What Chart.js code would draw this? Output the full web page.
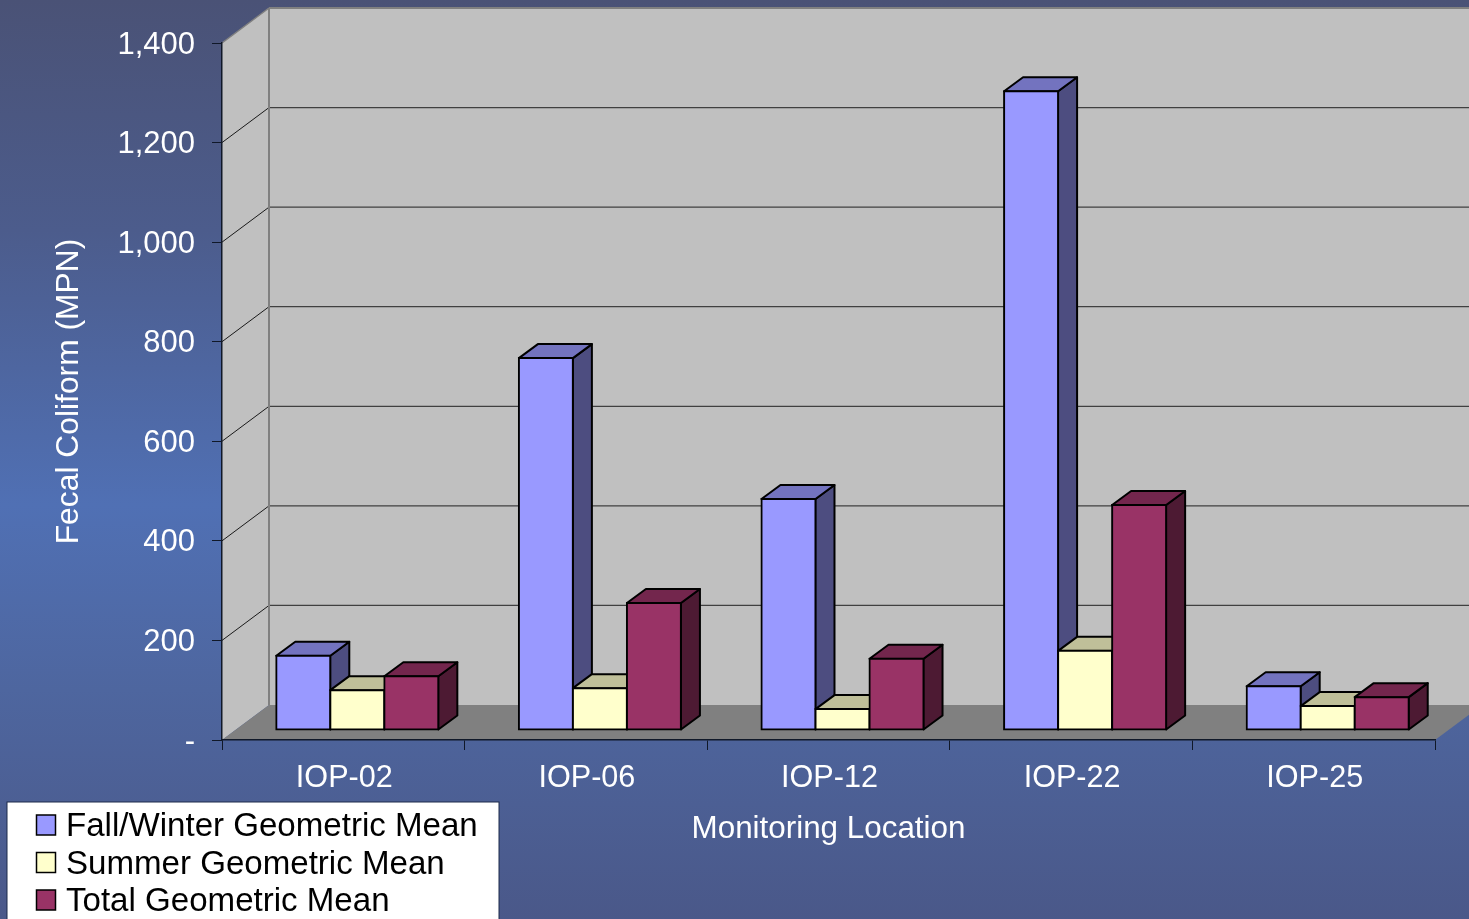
<!DOCTYPE html>
<html>
<head>
<meta charset="utf-8">
<title>Fecal Coliform by Monitoring Location</title>
<script src="https://cdn.jsdelivr.net/npm/chart.js@4"></script>
<style>
    html, body { margin: 0; padding: 0; overflow: hidden; }
    body {
        width: 1469px;
        height: 919px;
        background: linear-gradient(180deg, #4a5276 0%, #4c5c8c 25%, #5070b4 55%, #4e669f 75%, #4a5889 100%);
    }
    canvas { display: block; }
</style>
</head>
<body>
<canvas id="coliformChart" width="1469" height="919"></canvas>
<script>
const locations = ['IOP-02', 'IOP-06', 'IOP-12', 'IOP-22', 'IOP-25'];
const fallWinter = [149, 747, 464, 1283, 88];
const summer = [80, 84, 42, 159, 48];
const total = [108, 255, 143, 452, 66];

const FONT = '"Liberation Sans", Arial, sans-serif';

// depth of the box, and how far the bars sit inside it
const BOX_DX = 47, BOX_DY = -35;
const BAR_DX = 14, BAR_DY = -10;
const SIDE_DX = 19, SIDE_DY = -14;

const shades = [
    { side: '#4d4d80', top: '#7373bf' },
    { side: '#808066', top: '#bfbf99' },
    { side: '#4d1a33', top: '#73264d' }
];

function fillPoly(ctx, pts, fill, stroke, lineWidth) {
    ctx.beginPath();
    pts.forEach((p, i) => i ? ctx.lineTo(p[0], p[1]) : ctx.moveTo(p[0], p[1]));
    ctx.closePath();
    if (fill) {
        ctx.fillStyle = fill;
        ctx.fill();
    }
    if (stroke) {
        ctx.strokeStyle = stroke;
        ctx.lineWidth = lineWidth;
        ctx.stroke();
    }
}

function line(ctx, x1, y1, x2, y2, color, width) {
    ctx.beginPath();
    ctx.moveTo(x1, y1);
    ctx.lineTo(x2, y2);
    ctx.strokeStyle = color;
    ctx.lineWidth = width;
    ctx.stroke();
}

const boxPlugin = {
    id: 'box',
    // back wall, side wall, floor and the gridlines that run over them
    beforeDraw(chart) {
        const { ctx, chartArea: a, scales } = chart;
        ctx.save();
        fillPoly(ctx, [[a.left + BOX_DX, a.top + BOX_DY], [a.right + BOX_DX, a.top + BOX_DY],
            [a.right + BOX_DX, a.bottom + BOX_DY], [a.left + BOX_DX, a.bottom + BOX_DY]], '#c0c0c0');
        fillPoly(ctx, [[a.left, a.top], [a.left + BOX_DX, a.top + BOX_DY],
            [a.left + BOX_DX, a.bottom + BOX_DY], [a.left, a.bottom]], '#c0c0c0');
        fillPoly(ctx, [[a.left, a.bottom], [a.left + BOX_DX, a.bottom + BOX_DY],
            [a.right + BOX_DX, a.bottom + BOX_DY], [a.right, a.bottom]], '#808080');

        scales.y.ticks.forEach(t => {
            const y = scales.y.getPixelForValue(t.value);
            if (t.value === 0) return;
            if (t.value === scales.y.max) {
                line(ctx, a.left, y, a.left + BOX_DX, y + BOX_DY, '#808080', 1.5);
                line(ctx, a.left + BOX_DX, y + BOX_DY, a.right + BOX_DX, y + BOX_DY, '#808080', 2);
                return;
            }
            line(ctx, a.left, y, a.left + BOX_DX, y + BOX_DY, '#1a1a1a', 1);
            line(ctx, a.left + BOX_DX, y + BOX_DY, a.right + BOX_DX, y + BOX_DY, '#404040', 1.2);
        });
        line(ctx, a.left + BOX_DX, a.top + BOX_DY, a.left + BOX_DX, a.bottom + BOX_DY, '#808080', 2);
        ctx.restore();
    },
    // bars go left to right so each front face covers its neighbour's side
    beforeDatasetsDraw(chart) {
        const { ctx } = chart;
        ctx.save();
        ctx.translate(BAR_DX, BAR_DY);
        ctx.lineJoin = 'round';
        chart.data.datasets.forEach((ds, i) => {
            const meta = chart.getDatasetMeta(i);
            meta.data.forEach(bar => {
                const { x, y, base, width } = bar.getProps(['x', 'y', 'base', 'width'], true);
                const l = x - width / 2, r = x + width / 2;
                fillPoly(ctx, [[r, y], [r + SIDE_DX, y + SIDE_DY], [r + SIDE_DX, base + SIDE_DY], [r, base]],
                    shades[i].side, '#000', 2);
                fillPoly(ctx, [[l, y], [l + SIDE_DX, y + SIDE_DY], [r + SIDE_DX, y + SIDE_DY], [r, y]],
                    shades[i].top, '#000', 2);
            });
            meta.controller.draw();
        });
        ctx.restore();
        return false;
    },
    afterDraw(chart) {
        const { ctx } = chart;
        ctx.save();
        ctx.fillStyle = '#fff';
        ctx.strokeStyle = '#1c2a4a';
        ctx.lineWidth = 1;
        ctx.fillRect(7, 802, 492, 130);
        ctx.strokeRect(7, 802, 492, 130);
        ctx.font = '33.1px ' + FONT;
        ctx.textBaseline = 'alphabetic';
        chart.data.datasets.forEach((ds, i) => {
            const rowY = 825 + i * 37.5;
            ctx.fillStyle = ds.backgroundColor;
            ctx.fillRect(36.5, rowY - 10, 19, 20);
            ctx.strokeStyle = '#000';
            ctx.lineWidth = 1.5;
            ctx.strokeRect(36.5, rowY - 10, 19, 20);
            ctx.fillStyle = '#000';
            ctx.fillText(ds.label, 66, rowY + 11);
        });
        ctx.restore();
    }
};

const ctx = document.getElementById('coliformChart').getContext('2d');

new Chart(ctx, {
    type: 'bar',
    data: {
        labels: locations,
        datasets: [
            { label: 'Fall/Winter Geometric Mean', data: fallWinter, backgroundColor: '#9999ff' },
            { label: 'Summer Geometric Mean', data: summer, backgroundColor: '#ffffcc' },
            { label: 'Total Geometric Mean', data: total, backgroundColor: '#993366' }
        ].map(ds => ({ ...ds, borderColor: '#000', borderWidth: 2, borderSkipped: false, inflateAmount: 1 }))
    },
    options: {
        responsive: false,
        animation: false,
        events: [],
        layout: { padding: { top: 43, right: 34, left: 0, bottom: 0 } },
        datasets: { bar: { categoryPercentage: 0.668, barPercentage: 1 } },
        plugins: { legend: { display: false }, tooltip: { enabled: false } },
        scales: {
            x: {
                afterFit(scale) { scale.height = 179; },
                grid: { drawOnChartArea: false, tickLength: 10, color: '#101828' },
                border: { color: '#101828', width: 1.5 },
                ticks: { color: '#fff', font: { family: FONT, size: 30.6 }, padding: 10, labelOffset: 1, maxRotation: 0 },
                title: {
                    display: true,
                    text: 'Monitoring Location',
                    color: '#fff',
                    font: { family: FONT, size: 31.4 },
                    padding: { top: 12, bottom: 71 }
                }
            },
            y: {
                min: 0,
                max: 1400,
                afterFit(scale) { scale.width = 222; },
                grid: { drawOnChartArea: false, tickLength: 10, color: '#101828' },
                border: { color: '#101828', width: 1.5 },
                ticks: {
                    stepSize: 200,
                    color: '#fff',
                    font: { family: FONT, size: 31 },
                    padding: 17,
                    labelOffset: 2,
                    callback: v => v === 0 ? '-' : v.toLocaleString('en-US')
                },
                title: {
                    display: true,
                    text: 'Fecal Coliform (MPN)',
                    color: '#fff',
                    font: { family: FONT, size: 31.8 },
                    padding: { top: 50, bottom: 0 }
                }
            }
        }
    },
    plugins: [boxPlugin]
});
</script>
</body>
</html>
